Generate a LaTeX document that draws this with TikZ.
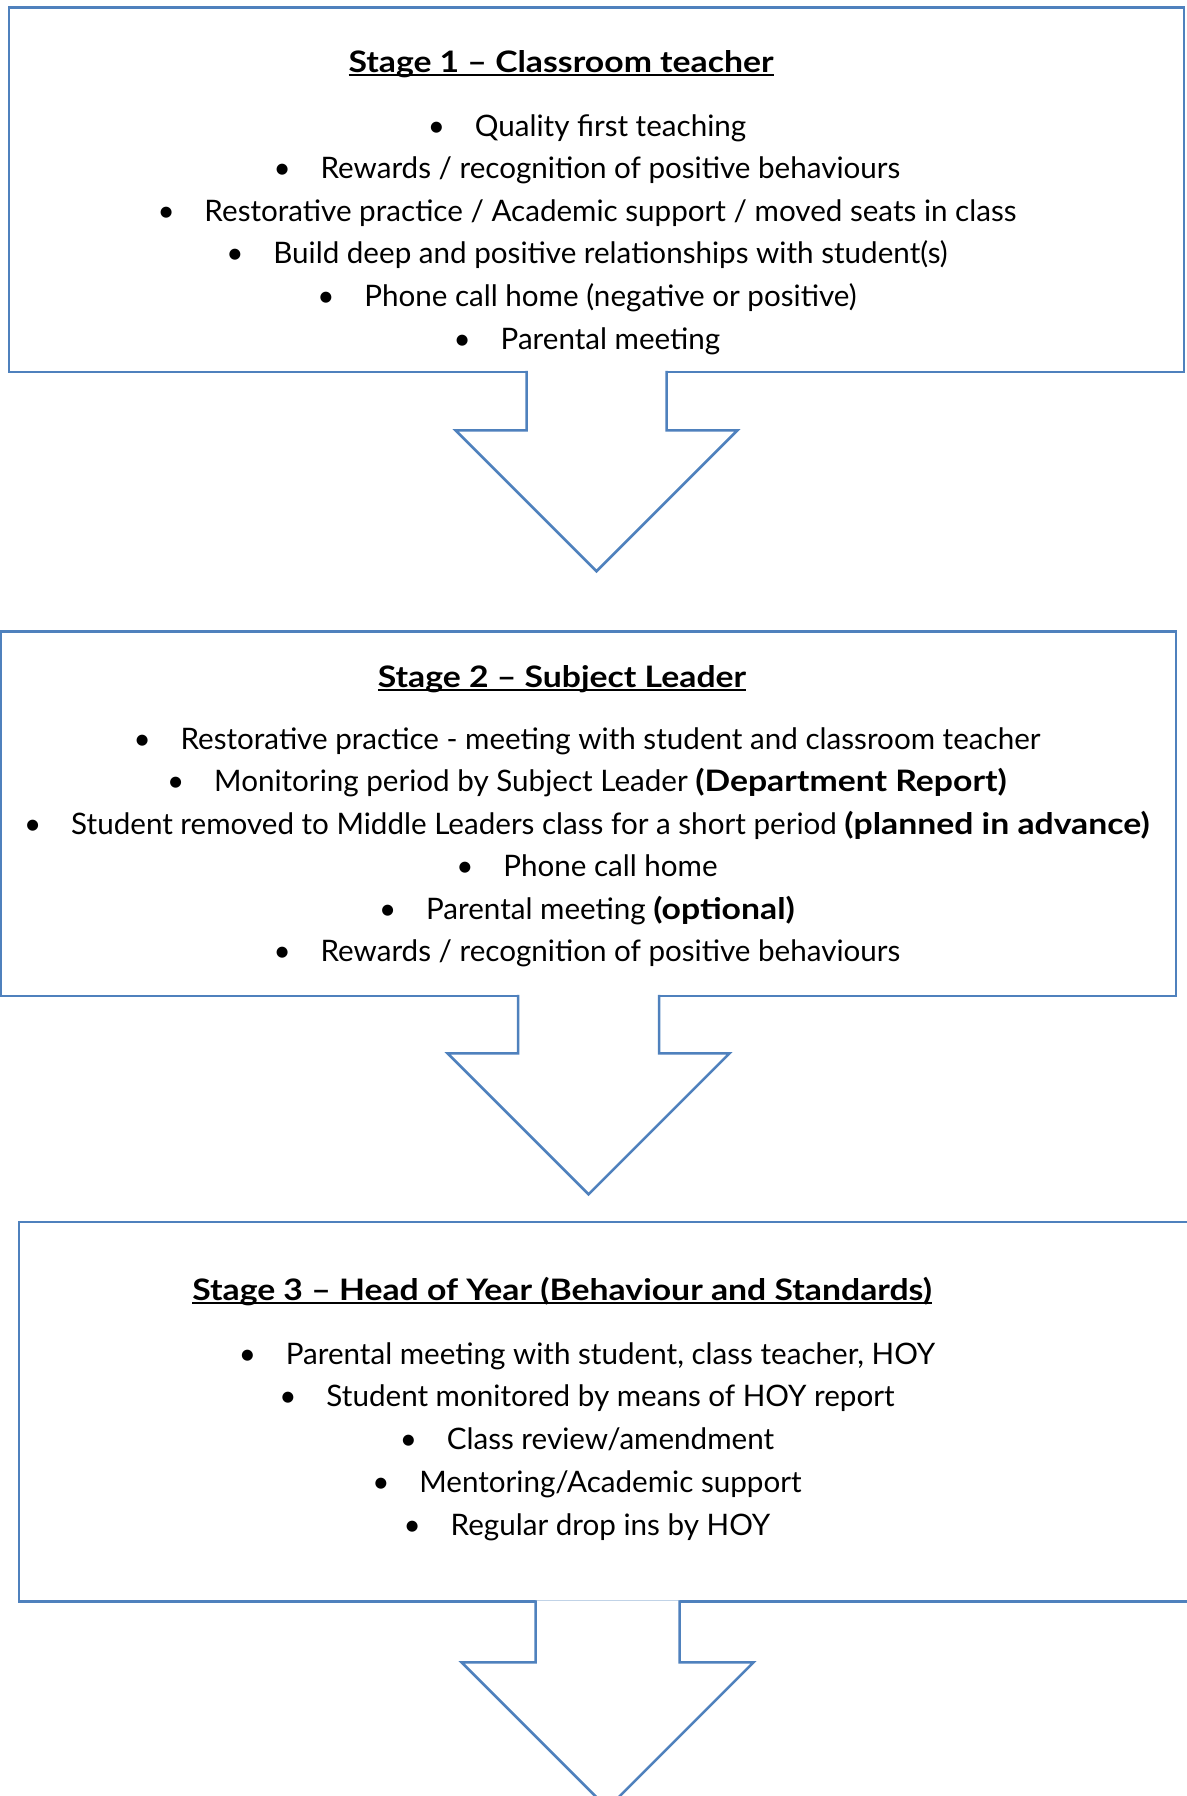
\documentclass[tikz,border=0pt]{standalone}
\usepackage{fontspec}
\setmainfont{Lato}[BoldFeatures={FakeStretch=1.14}]
\usetikzlibrary{positioning,calc}
\definecolor{edge}{HTML}{4F81BD}
\newcommand\blt{\makebox[47pt][l]{\textbullet}}
\newcommand\ulined[1]{\setbox0\hbox{#1}\rlap{\rule[-4pt]{\wd0}{2pt}}\box0}
\tikzset{stagebox/.style={draw=edge,line width=2.5pt,inner sep=0pt},
  stagearrow/.style={draw=edge,line width=2.5pt,fill=white,line join=miter},
  title/.style={font=\bfseries,anchor=base,inner sep=0pt},
  item/.style={anchor=base,inner sep=0pt}}

\begin{document}
\begin{tikzpicture}[x=1pt,y=-1pt]
\useasboundingbox (0,0) rectangle (1186,1796);
\fontsize{29.6}{42.6}\selectfont
% the three stage boxes
\node[stagebox,minimum width=1175pt,minimum height=364.5pt](s1) at (596.5,189.75){};
\node[stagebox,minimum width=1175pt,minimum height=364.5pt](s2) at (588.5,813.75){};
\node[stagebox,minimum width=1177pt,minimum height=379.5pt](s3) at (607.5,1411.75){};
% block arrows hanging under each box
\foreach \b/\w/\l/\h in {s1/70/57/141,s2/70.5/56/141,s3/72/59.5/146}
  \draw[stagearrow]($(\b.south)+(-\w,-2.5)$)--++(0,\l+2.5)--++(\w-\h,0)--++(\h,\h)
    --++(\h,-\h)--++(\w-\h,0)--++(0,-\l-2.5);
% stage 1
\node[title](t1) at (561,72){\ulined{Stage 1 – Classroom teacher}};
\foreach \t [count=\i from 0] in {Quality first teaching,
  Rewards / recognition of positive behaviours,
  Restorative practice / Academic support / moved seats in class,
  Build deep and positive relationships with student(s),
  Phone call home (negative or positive),
  Parental meeting}
  \node[item](a\i) at (587,{136+42.6*\i}){\blt\t};
% stage 2
\node[title](t2) at (562,687){\ulined{Stage 2 – Subject Leader}};
\foreach \t [count=\i from 0] in {Restorative practice - meeting with student and classroom teacher,
  Monitoring period by Subject Leader \textbf{(Department Report)},
  Student removed to Middle Leaders class for a short period \textbf{(planned in advance)},
  Phone call home,
  Parental meeting \textbf{(optional)},
  Rewards / recognition of positive behaviours}
  \node[item](b\i) at (587,{749.4+42.5*\i}){\blt\t};
% stage 3
\node[title](t3) at (562,1300){\ulined{Stage 3 – Head of Year (Behaviour and Standards)}};
\foreach \t [count=\i from 0] in {{Parental meeting with student, class teacher, HOY},
  Student monitored by means of HOY report,
  Class review/amendment,
  Mentoring/Academic support,
  Regular drop ins by HOY}
  \node[item](c\i) at (587,{1364+42.75*\i}){\blt\t};
\end{tikzpicture}
\end{document}
